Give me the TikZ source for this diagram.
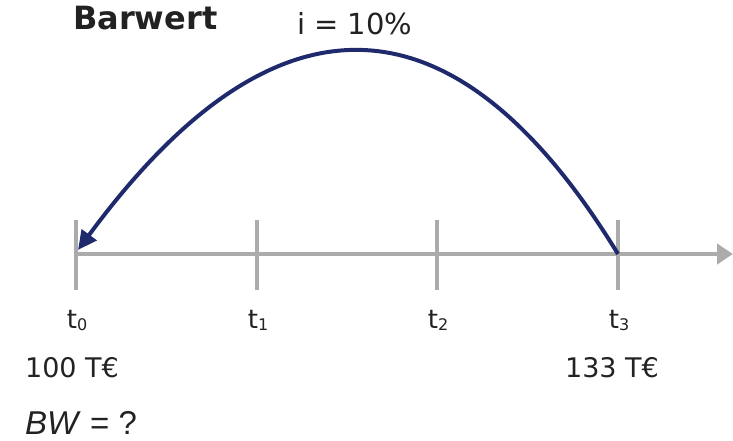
\documentclass[tikz,border=0pt]{standalone}
\usepackage{fontspec}
\setmainfont{DejaVu Sans}
\newfontfamily\bwfont{Liberation Sans}
\usepackage{xcolor}
\usepackage{tikz}
\usetikzlibrary{arrows.meta,positioning}
\definecolor{navy}{HTML}{1E2A6C}
\definecolor{axisgray}{HTML}{ABABAB}
\definecolor{ink}{HTML}{222222}
\tikzset{
    every picture/.style={line cap=butt,line join=miter},
    axisline/.style={draw=axisgray,line width=4pt},
    tickline/.style={draw=axisgray,line width=4pt},
    flowarc/.style={draw=navy,line width=4pt,
      -{Triangle[length=19pt,width=18pt]}},
    timelabel/.style={text=ink,font=\fontsize{26}{28}\selectfont,inner sep=0pt,anchor=base},
    amountlabel/.style={text=ink,font=\fontsize{27}{30}\selectfont,inner sep=0pt,anchor=base},
    titlelabel/.style={text=ink,inner sep=0pt,anchor=base west}
}
\newcommand{\tsub}[1]{t\raisebox{-2pt}{\fontsize{16}{16}\selectfont #1}}

\begin{document}
\begin{tikzpicture}[x=1pt,y=1pt]
    \useasboundingbox (0,0) rectangle (733,440);
    % time axis
    \coordinate (axstart) at (74,186);
    \coordinate (axend) at (733,186);
    \draw[axisline,-{Triangle[length=16pt,width=20pt]}] (axstart)--(axend);
    % ticks
    \foreach \i/\x in {0/76,1/257,2/437,3/618}{
      \coordinate (top\i) at (\x,220);
      \coordinate (bot\i) at (\x,150);
      \draw[tickline] (top\i)--(bot\i);
      \node[timelabel] (t\i) at (\x+1,112) {\tsub{\i}};
    }
    % amounts
    \node[amountlabel] (pv) at (72,63) {100 T€};
    \node[amountlabel] (fv) at (612,63) {133 T€};
    \node[text=ink,inner sep=0pt,anchor=base west,font=\bwfont\fontsize{33}{35}\selectfont] (bw) at (25,6) {\textit{BW} = ?};
    % title and rate
    \node[titlelabel,font=\bfseries\fontsize{32}{34}\selectfont] (title) at (73,410) {Barwert};
    \node[titlelabel,font=\fontsize{29}{31}\selectfont] (rate) at (297,405) {i = 10\%};
    % discounting arc
    \coordinate (arcstart) at (618,186);
    \coordinate (arcend) at (78,190);
    \draw[flowarc] (arcstart) .. controls (454,454) and (274,456) .. (arcend);
\end{tikzpicture}
\end{document}
